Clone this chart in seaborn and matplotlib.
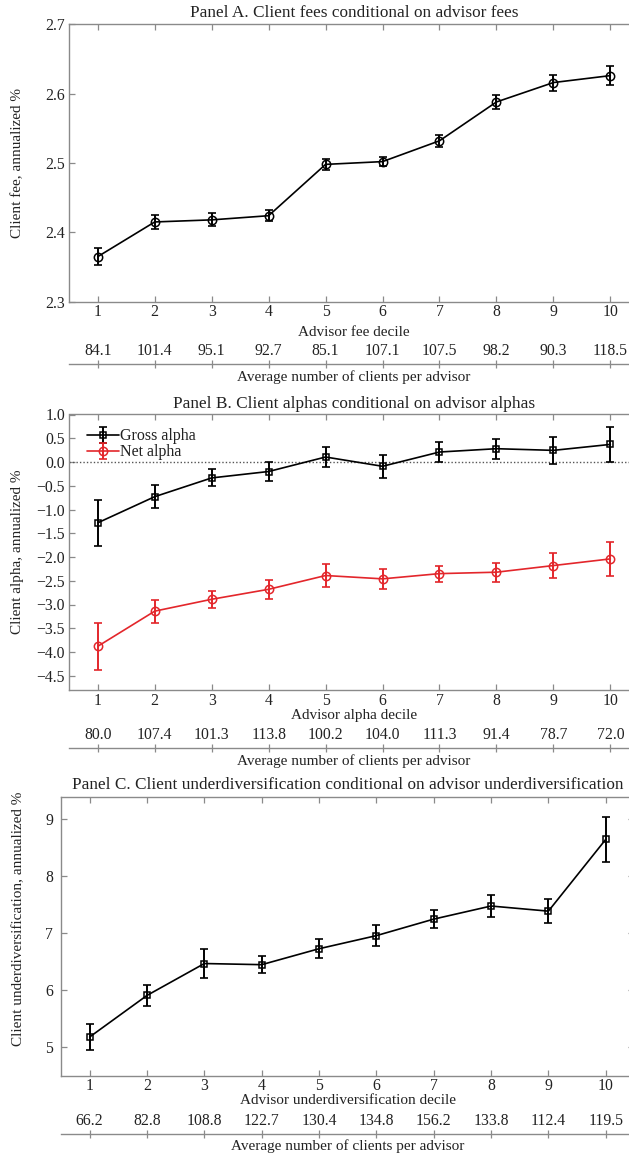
import numpy as np
import pandas as pd
import matplotlib
matplotlib.use("Agg")
import matplotlib.pyplot as plt
import seaborn as sns
from matplotlib.legend_handler import HandlerTuple
from matplotlib.ticker import FormatStrFormatter, FuncFormatter

# ---------------- data ----------------
deciles = list(range(1, 11))

fee_client = [2.365, 2.415, 2.418, 2.424, 2.498, 2.502, 2.532, 2.588, 2.616, 2.626]
fee_err = [0.012, 0.010, 0.0095, 0.008, 0.0077, 0.0067, 0.009, 0.0098, 0.0115, 0.0137]
fee_clients = ["84.1", "101.4", "95.1", "92.7", "85.1", "107.1", "107.5", "98.2", "90.3", "118.5"]

alpha_gross = [-1.28, -0.73, -0.335, -0.20, 0.105, -0.09, 0.21, 0.28, 0.245, 0.37]
alpha_gross_err = [0.485, 0.24, 0.18, 0.21, 0.21, 0.24, 0.21, 0.21, 0.29, 0.37]
alpha_net = [-3.88, -3.14, -2.89, -2.68, -2.39, -2.46, -2.35, -2.32, -2.18, -2.04]
alpha_net_err = [0.50, 0.24, 0.18, 0.20, 0.25, 0.21, 0.17, 0.20, 0.27, 0.36]
alpha_clients = ["80.0", "107.4", "101.3", "113.8", "100.2", "104.0", "111.3", "91.4", "78.7", "72.0"]

udiv_client = [5.18, 5.91, 6.47, 6.45, 6.73, 6.96, 7.25, 7.48, 7.39, 8.65]
udiv_err = [0.22, 0.19, 0.25, 0.15, 0.17, 0.18, 0.16, 0.19, 0.21, 0.40]
udiv_clients = ["66.2", "82.8", "108.8", "122.7", "130.4", "134.8", "156.2", "133.8", "112.4", "119.5"]

titles = ["Panel A. Client fees conditional on advisor fees",
          "Panel B. Client alphas conditional on advisor alphas",
          "Panel C. Client underdiversification conditional on advisor underdiversification"]
ylabels = ["Client fee, annualized %", "Client alpha, annualized %",
           "Client underdiversification, annualized %"]
xlabels = ["Advisor fee decile", "Advisor alpha decile", "Advisor underdiversification decile"]
sec_label = "Average number of clients per advisor"
legend_labels = ["Gross alpha", "Net alpha"]

# ---------------- style ----------------
sns.set_theme(style="ticks")
plt.rcParams["font.family"] = ["Liberation Serif", "DejaVu Serif"]
plt.rcParams["font.size"] = 11
plt.rcParams["axes.unicode_minus"] = True

W, H = 629, 1153
fig = plt.figure(figsize=(W / 100, H / 100), dpi=100)

SPINE = "#8a8a8a"
TEXT = "#222222"
RED = "#e3262b"
TITLE_FS = 12.4

def add_ax(left, right, top, bottom):
    return fig.add_axes([left / W, 1 - bottom / H, (right - left) / W, (bottom - top) / H])

def style_main(ax, ylim, yticks, fmt, ypad=3):
    ax.set_xlim(0.5, 10.5)
    ax.set_ylim(*ylim)
    ax.set_xticks(deciles)
    ax.set_yticks(yticks)
    ax.yaxis.set_major_formatter(fmt)
    for s in ax.spines.values():
        s.set_color(SPINE)
        s.set_linewidth(1.0)
        s.set_visible(True)
    ax.tick_params(axis="both", which="both", direction="in", length=4, width=0.9,
                   color=SPINE, labelcolor=TEXT, labelsize=11.3, top=True, right=True)
    ax.tick_params(axis="x", pad=2)
    ax.tick_params(axis="y", pad=ypad)
    ax.grid(False)

def secondary(left, right, yline, labels):
    ax_s = fig.add_axes([left / W, 1 - yline / H, (right - left) / W, 0.0001])
    ax_s.set_xlim(0.5, 10.5)
    ax_s.set_yticks([])
    ax_s.patch.set_visible(False)
    for k in ["top", "left", "right"]:
        ax_s.spines[k].set_visible(False)
    ax_s.spines["bottom"].set_color(SPINE)
    ax_s.spines["bottom"].set_linewidth(1.0)
    ax_s.set_xticks(deciles)
    ax_s.set_xticklabels(labels)
    ax_s.tick_params(axis="x", bottom=True, top=False, labelbottom=False, labeltop=True,
                     direction="inout", length=6, width=0.9, color=SPINE,
                     labelcolor=TEXT, labelsize=11.3, pad=0.5)
    ax_s.xaxis.set_label_position("bottom")
    ax_s.set_xlabel(sec_label, color=TEXT, fontsize=11, labelpad=1)
    return ax_s

def draw_series(ax, y, err, color, marker, ms):
    df = pd.DataFrame({"decile": deciles, "value": y})
    sns.lineplot(data=df, x="decile", y="value", ax=ax, color=color, marker=marker,
                 markersize=ms, markerfacecolor="none", markeredgecolor=color,
                 markeredgewidth=1.1, linewidth=1.2, errorbar=None, legend=False, zorder=3)
    line = ax.lines[-1]
    eb = ax.errorbar(deciles, y, yerr=err, fmt="none", ecolor=color, elinewidth=1.4,
                     capsize=2.8, capthick=1.2, zorder=2)
    return line, eb

one_dec = FormatStrFormatter("%.1f")
def minus_fmt(v, pos):
    s = "%.1f" % v
    if s == "-0.0":
        s = "0.0"
    return s.replace("-", "\u2212")

# ---------------- Panel A ----------------
axA = add_ax(69.3, 638.8, 24.3, 301.7)
draw_series(axA, fee_client, fee_err, "black", "o", 6)
style_main(axA, (2.3, 2.7), [2.3, 2.4, 2.5, 2.6, 2.7], one_dec)
axA.set_title(titles[0], fontsize=TITLE_FS, color=TEXT, pad=5.0)
axA.set_ylabel(ylabels[0], fontsize=11, color=TEXT)
axA.yaxis.set_label_coords(-0.079, 0.5)
axA.set_xlabel(xlabels[0], fontsize=11, color=TEXT)
axA.xaxis.set_label_coords(0.5, -0.088)
secondary(69.3, 638.8, 364.3, fee_clients)

# ---------------- Panel B ----------------
axB = add_ax(69.3, 638.8, 414.5, 690.0)
axB.axhline(0, color="#555555", linestyle=(0, (1, 1.5)), linewidth=1.0, zorder=1)
lg, ebg = draw_series(axB, alpha_gross, alpha_gross_err, "black", "s", 4.5)
ln, ebn = draw_series(axB, alpha_net, alpha_net_err, RED, "o", 6)
style_main(axB, (-4.8, 1.0), list(np.arange(-4.5, 1.01, 0.5)), FuncFormatter(minus_fmt))
axB.set_title(titles[1], fontsize=TITLE_FS, color=TEXT, pad=5.0)
axB.set_ylabel(ylabels[1], fontsize=11, color=TEXT)
axB.yaxis.set_label_coords(-0.0795, 0.5)
axB.set_xlabel(xlabels[1], fontsize=11, color=TEXT)
axB.xaxis.set_label_coords(0.5, -0.069)
axB.legend([(ebg, lg), (ebn, ln)], legend_labels,
           handler_map={tuple: HandlerTuple(ndivide=1, pad=0)},
           loc="upper left", bbox_to_anchor=(0.031, 0.950), frameon=False, fontsize=11.5,
           handlelength=2.0, handletextpad=0.05, labelspacing=0.0, borderaxespad=0, borderpad=0,
           labelcolor=TEXT)
secondary(69.3, 638.8, 748.3, alpha_clients)

# ---------------- Panel C ----------------
axC = add_ax(61.0, 634.4, 796.7, 1075.7)
draw_series(axC, udiv_client, udiv_err, "black", "s", 4.5)
style_main(axC, (4.5, 9.4), [5, 6, 7, 8, 9], FormatStrFormatter("%d"), ypad=5.5)
axC.set_title(titles[2], fontsize=TITLE_FS, color=TEXT, pad=5.5)
axC.set_ylabel(ylabels[2], fontsize=11, color=TEXT)
axC.yaxis.set_label_coords(-0.062, 0.562)
axC.set_xlabel(xlabels[2], fontsize=11, color=TEXT)
axC.xaxis.set_label_coords(0.5, -0.066)
secondary(61.0, 634.4, 1134.0, udiv_clients)

fig.savefig("out.png", dpi=100)
